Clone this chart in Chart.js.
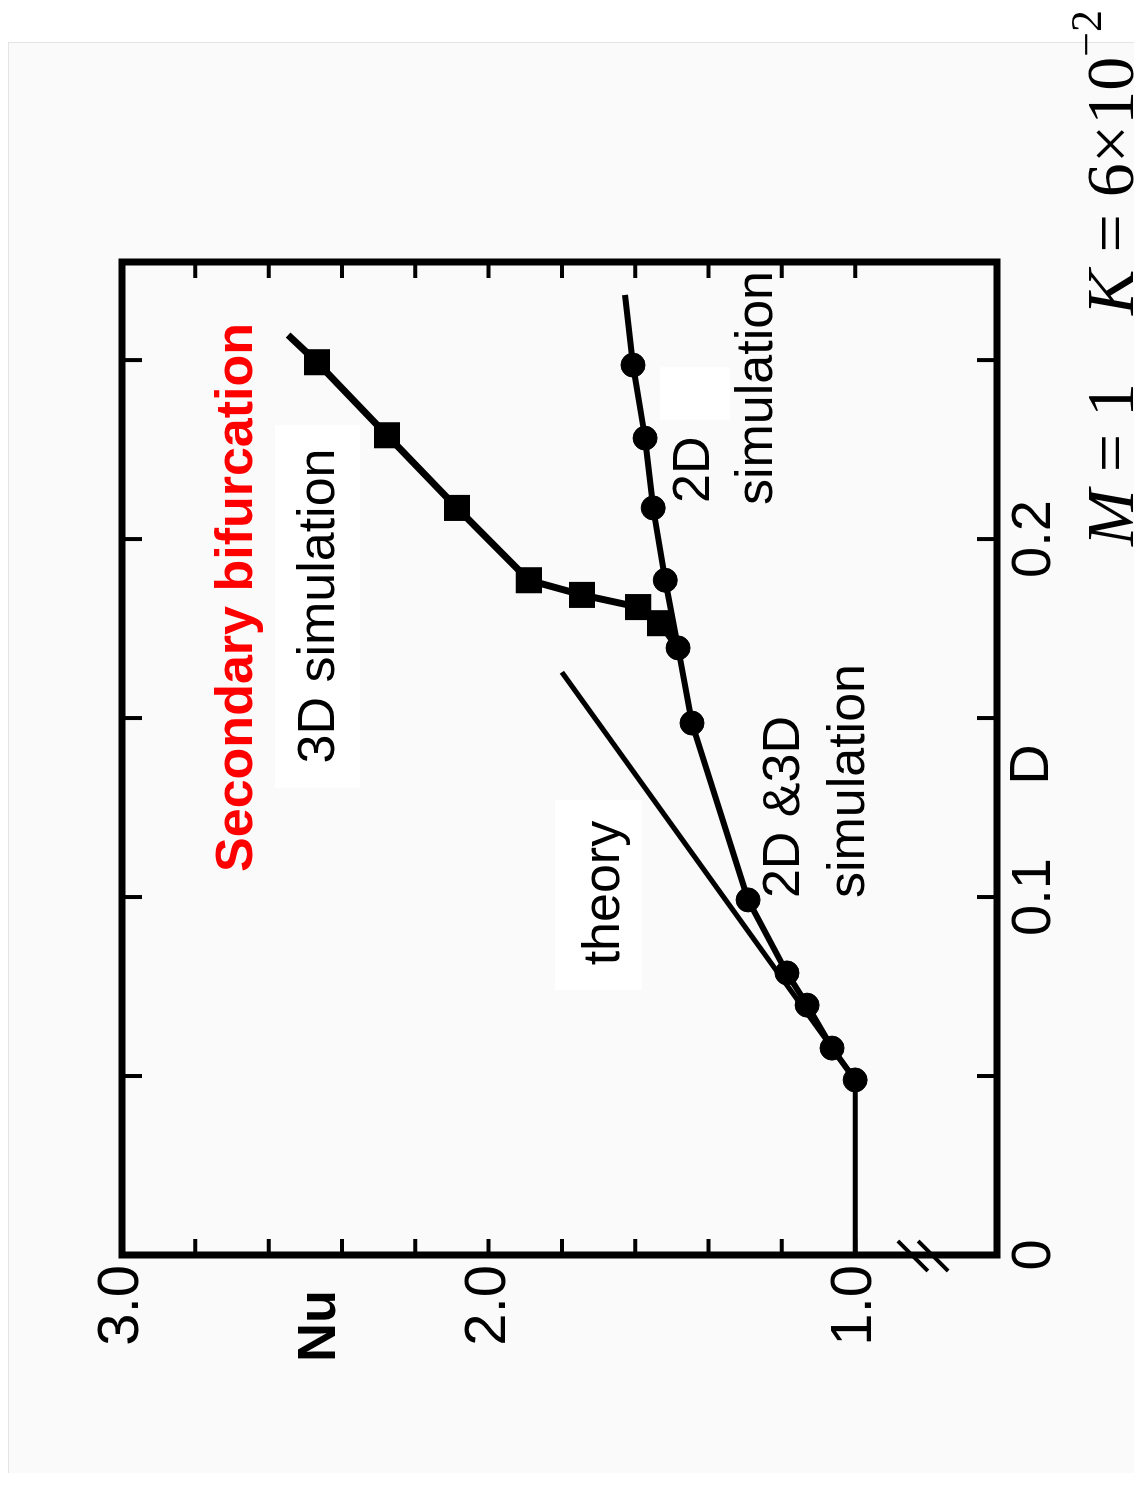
<!DOCTYPE html>
<html>
<head>
<meta charset="utf-8">
<script src="https://cdn.jsdelivr.net/npm/chart.js@4.4.1/dist/chart.umd.min.js"></script>
<style>
  html, body { margin:0; padding:0; background:#ffffff; width:1134px; height:1492px; overflow:hidden; }
  #page { position:absolute; left:8px; top:42px; width:1126px; height:1430px; background:#fafafa;
          border-top:1px solid #e4e4e4; border-left:1px solid #e4e4e4; }
  #rot { position:absolute; left:0; top:1492px; width:1492px; height:1134px;
         transform-origin:0 0; transform:rotate(-90deg); }
  #c { position:absolute; left:0; top:0; }
  #params { position:absolute; right:10px; top:1076px; font-family:"Liberation Serif","Times New Roman",serif;
            font-size:68px; line-height:68px; white-space:nowrap; color:#000; }
  #params i { font-style:italic; }
  #params sup { font-size:44px; vertical-align:baseline; position:relative; top:-32px; }
</style>
</head>
<body>
<div id="page"></div>
<div id="rot">
  <canvas id="c" width="1492" height="1134"></canvas>
  <div id="params"><i>M</i>&nbsp;=&nbsp;1&nbsp;&nbsp;&nbsp;&nbsp;<i>K</i>&nbsp;=&nbsp;6×10<sup>−2</sup></div>
</div>
<script>
// ---- axis ticks ----
const dTickVals = [0, 0.1, 0.2];
const dTickLabels = ['0', '0.1', '0.2'];
const nuTickVals = [1.0, 2.0, 3.0];
const nuTickLabels = ['1.0', '2.0', '3.0'];
const dMinorTicks = [0.05, 0.10, 0.15, 0.20, 0.25];
const nuMinorTicks = [1.0, 1.2, 1.4, 1.6, 1.8, 2.0, 2.2, 2.4, 2.6, 2.8];
const dRange = [0, 0.2774];
const nuRange = [0.613, 3.0];
const nuBreakVals = [0.845, 0.79];

// ---- series (D, Nu) ----
const condD = [0, 0.0489];
const condNu = [1.0, 1.0];
const commonD = [0.0489, 0.0578, 0.0698, 0.0788, 0.0992, 0.1486, 0.1696];
const commonNu = [1.0, 1.063, 1.131, 1.186, 1.292, 1.445, 1.483];
const sim2dD = [0.1696, 0.1885, 0.2087, 0.2282, 0.2486];
const sim2dNu = [1.483, 1.518, 1.551, 1.573, 1.606];
const sim2dTailD = [0.2486, 0.2682];
const sim2dTailNu = [1.606, 1.628];
const sim3dD = [0.1696, 0.1765, 0.1810, 0.1844, 0.1885, 0.2087, 0.2290, 0.2494];
const sim3dNu = [1.483, 1.532, 1.592, 1.745, 1.890, 2.086, 2.277, 2.468];
const sim3dTailD = [0.2494, 0.2570];
const sim3dTailNu = [2.468, 2.547];
const theoryD = [0.0489, 0.1628];
const theoryNu = [1.0, 1.80];

// ---- annotations ----
const SANS = '"Liberation Sans", Arial, Helvetica, sans-serif';
const notes = [
  { text:'Secondary bifurcation', d:0.1837, nu:2.684, align:'center', font:'bold 52px ' + SANS, color:'#ff0000' },
  { text:'3D simulation', d:0.1813, nu:2.460, align:'center', font:'52px ' + SANS, color:'#000' },
  { text:'theory', d:0.1011, nu:1.682, align:'center', font:'52px ' + SANS, color:'#000' },
  { text:'2D &3D', d:0.0997, nu:1.191, align:'left', font:'52px ' + SANS, color:'#000' },
  { text:'simulation', d:0.0997, nu:1.014, align:'left', font:'52px ' + SANS, color:'#000' },
  { text:'2D', d:0.2101, nu:1.439, align:'left', font:'52px ' + SANS, color:'#000' },
  { text:'simulation', d:0.2095, nu:1.267, align:'left', font:'52px ' + SANS, color:'#000' }
];
const boxes = [
  { d0:0.1304, d1:0.2318, nu0:2.351, nu1:2.583 },
  { d0:0.0740, d1:0.1271, nu0:1.582, nu1:1.819 },
  { d0:0.2332, d1:0.2480, nu0:1.341, nu1:1.532 }
];

const pts = (xs, ys) => xs.map((x, i) => ({ x: x, y: ys[i] }));

const decor = {
  id: 'decor',
  beforeDatasetsDraw(chart) {
    const { ctx, scales: { x, y } } = chart;
    ctx.save();
    ctx.fillStyle = '#ffffff';
    boxes.forEach(b => {
      const x1 = x.getPixelForValue(b.d0), x2 = x.getPixelForValue(b.d1);
      const y1 = y.getPixelForValue(b.nu1), y2 = y.getPixelForValue(b.nu0);
      ctx.fillRect(x1, y1, x2 - x1, y2 - y1);
    });
    ctx.restore();
  },
  afterDatasetsDraw(chart) {
    const { ctx, chartArea: a, scales: { x, y } } = chart;
    ctx.save();
    ctx.textBaseline = 'middle';
    notes.forEach(n => {
      ctx.font = n.font;
      ctx.fillStyle = n.color;
      ctx.textAlign = n.align;
      ctx.fillText(n.text, x.getPixelForValue(n.d), y.getPixelForValue(n.nu));
    });
    // frame
    ctx.strokeStyle = '#000';
    ctx.lineWidth = 7;
    ctx.lineJoin = 'miter';
    ctx.strokeRect(a.left, a.top, a.right - a.left, a.bottom - a.top);
    // inward ticks
    ctx.lineWidth = 4;
    ctx.beginPath();
    dMinorTicks.forEach(v => {
      const px = x.getPixelForValue(v);
      ctx.moveTo(px, a.top); ctx.lineTo(px, a.top + 20);
      ctx.moveTo(px, a.bottom); ctx.lineTo(px, a.bottom - 20);
    });
    nuMinorTicks.forEach(v => {
      const py = y.getPixelForValue(v);
      ctx.moveTo(a.left, py); ctx.lineTo(a.left + 16, py);
      ctx.moveTo(a.right, py); ctx.lineTo(a.right - 16, py);
    });
    ctx.stroke();
    // axis break marks
    ctx.lineWidth = 4;
    ctx.beginPath();
    nuBreakVals.forEach(v => {
      const py = y.getPixelForValue(v);
      ctx.moveTo(a.left + 14, py - 14); ctx.lineTo(a.left - 16, py + 16);
    });
    ctx.stroke();
    // axis titles
    ctx.fillStyle = '#000';
    ctx.font = 'bold 54px ' + SANS;
    ctx.textAlign = 'right';
    ctx.fillText('Nu', a.left - 35, y.getPixelForValue(2.46));
    ctx.font = '56px ' + SANS;
    ctx.textAlign = 'center';
    ctx.fillText('D', x.getPixelForValue(0.137), a.bottom + 36);
    ctx.restore();
  }
};

const lineDs = (data, extra) => Object.assign({
  data: data, showLine: true, borderColor: '#000', backgroundColor: '#000',
  borderWidth: 6, pointRadius: 0, pointHoverRadius: 0, tension: 0, clip: 4
}, extra || {});

new Chart(document.getElementById('c'), {
  type: 'scatter',
  data: {
    datasets: [
      lineDs(pts(condD, condNu), { label: 'conduction', borderWidth: 5 }),
      lineDs(pts(theoryD, theoryNu), { label: 'theory', borderWidth: 5 }),
      lineDs(pts(sim2dTailD, sim2dTailNu), { label: '2D tail' }),
      lineDs(pts(sim3dTailD, sim3dTailNu), { label: '3D tail', borderWidth: 7 }),
      lineDs(pts(commonD, commonNu), { label: '2D & 3D simulation', pointStyle: 'circle',
        pointRadius: 12, pointBorderWidth: 1 }),
      lineDs(pts(sim2dD, sim2dNu), { label: '2D simulation', pointStyle: 'circle',
        pointRadius: ctx => ctx.dataIndex === 0 ? 0 : 12, pointBorderWidth: 1 }),
      lineDs(pts(sim3dD, sim3dNu), { label: '3D simulation', pointStyle: 'rect', borderWidth: 7,
        pointRadius: ctx => ctx.dataIndex === 0 ? 0 : 17, pointBorderWidth: 2 })
    ]
  },
  options: {
    responsive: false,
    animation: false,
    devicePixelRatio: 1,
    layout: { padding: { top: 122, right: 262, left: 0, bottom: 0 } },
    plugins: { legend: { display: false }, tooltip: { enabled: false }, title: { display: false } },
    scales: {
      x: {
        type: 'linear', min: dRange[0], max: dRange[1],
        grid: { display: false, drawTicks: false }, border: { display: false },
        afterBuildTicks: s => { s.ticks = dTickVals.map(v => ({ value: v })); },
        afterFit: s => { s.height = 137; },
        ticks: {
          autoSkip: false, maxRotation: 0, minRotation: 0, padding: 4, color: '#000',
          font: { family: SANS, size: 56 },
          callback: v => dTickLabels[dTickVals.indexOf(v)]
        }
      },
      y: {
        type: 'linear', min: nuRange[0], max: nuRange[1],
        grid: { display: false, drawTicks: false }, border: { display: false },
        afterBuildTicks: s => { s.ticks = nuTickVals.map(v => ({ value: v })); },
        afterFit: s => { s.width = 237; },
        ticks: {
          autoSkip: false, padding: 10, color: '#000',
          font: { family: SANS, size: 58 },
          callback: v => nuTickLabels[nuTickVals.indexOf(v)]
        }
      }
    }
  },
  plugins: [decor]
});
</script>
</body>
</html>
